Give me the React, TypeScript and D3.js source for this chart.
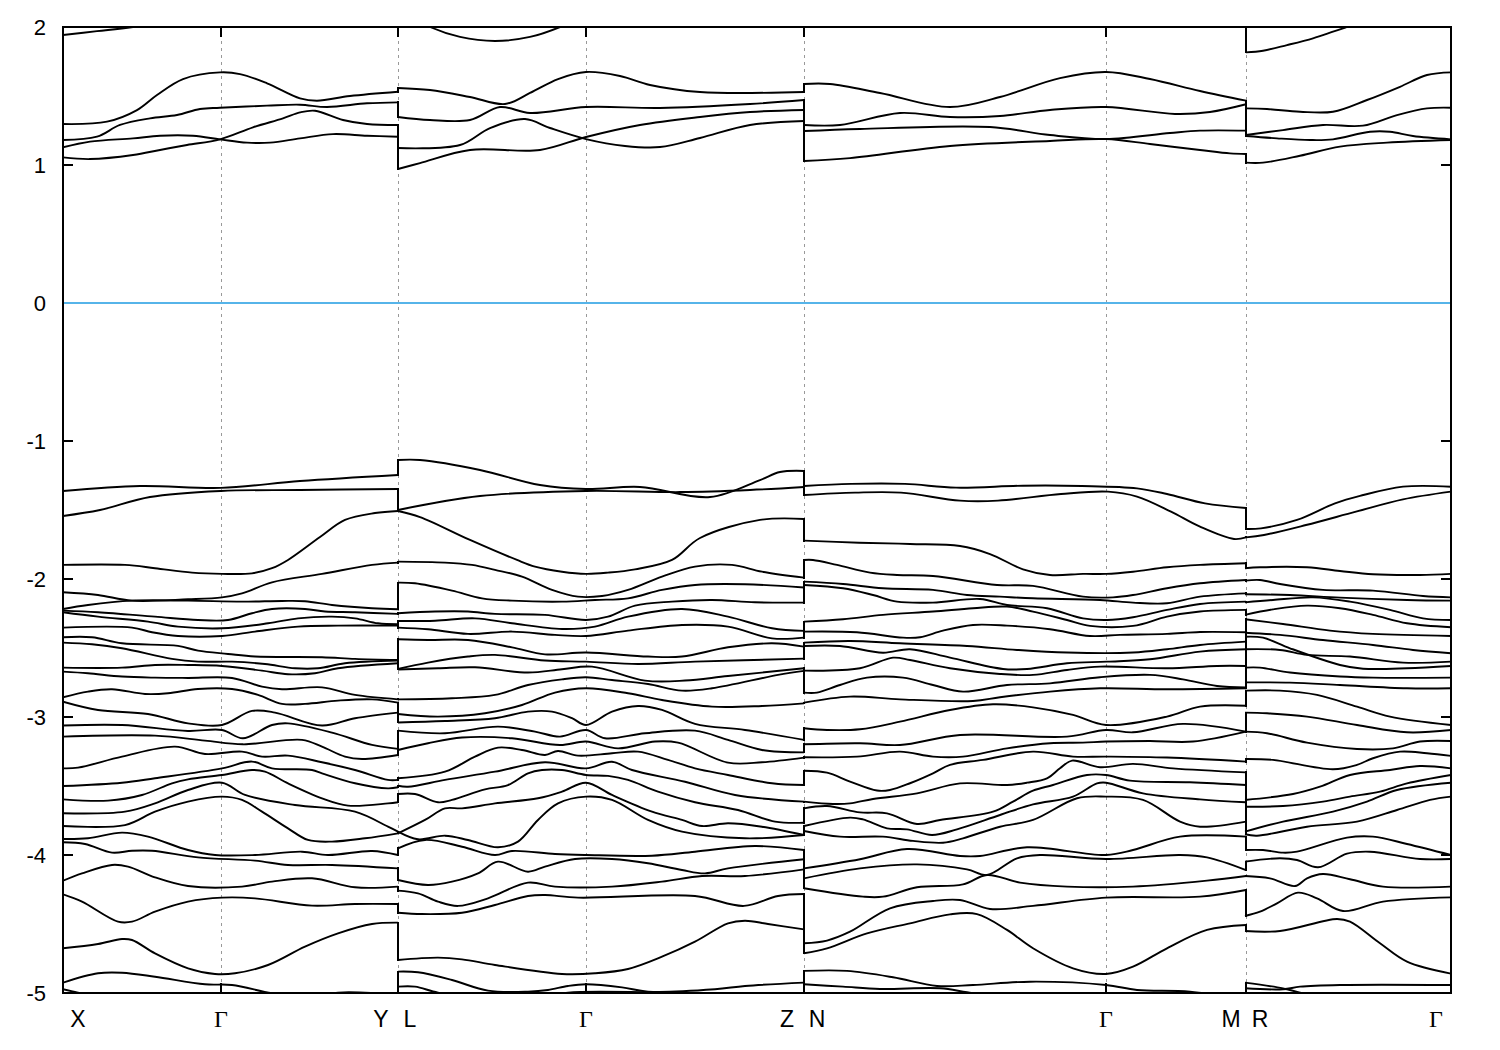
import React from 'react';
import * as d3 from 'd3';

type Pt = [number, number];
type Band = Pt[][];

// High-symmetry points along the k-path (path length, arbitrary units)
const nodeK = [158, 335, 523, 741, 1043, 1183];
const segmentEdges = [335, 741, 1183];
const energyTicks = [2, 1, 0, -1, -2, -3, -4, -5];
const pointLabels: [string, number, number][] = [
  ['X', 0, 15], ['Γ', 158, 0], ['Y', 335, -17], ['L', 335, 12], ['Γ', 523, 0], ['Z', 741, -17],
  ['N', 741, 13], ['Γ', 1043, 0], ['M', 1183, -15], ['R', 1183, 14], ['Γ', 1388, -15],
];

// Conduction bands: [k, E(eV)] per path segment
const c5: Band = [
  [[0,1.942],[34,1.97],[70,2.0],[160,2.1],[335,2.15]],
  [[335,2.13],[367,2.0],[397,1.928],[432,1.899],[467,1.928],[497,2.0],[520,2.08],[741,2.15]],
  [[741,2.15],[1183,2.15]],
  [[1183,1.816],[1200,1.828],[1224,1.869],[1250,1.918],[1270,1.966],[1280,1.99],[1304,2.05],[1388,2.05]],
];
const c4: Band = [
  [[0,1.297],[44,1.314],[74,1.398],[94,1.507],[120,1.623],[157,1.671],[177,1.659],[204,1.592],[237,1.483],[254,1.466],[287,1.5],[335,1.531]],
  [[335,1.558],[367,1.543],[407,1.493],[442,1.442],[467,1.522],[495,1.623],[523,1.674],[557,1.645],[587,1.58],[637,1.529],[741,1.529]],
  [[741,1.587],[767,1.587],[817,1.522],[887,1.42],[937,1.493],[997,1.63],[1043,1.674],[1087,1.623],[1137,1.536],[1183,1.466]],
  [[1183,1.41],[1204,1.406],[1237,1.386],[1270,1.386],[1304,1.471],[1337,1.567],[1364,1.652],[1388,1.671]],
];
const c3: Band = [
  [[0,1.181],[34,1.205],[57,1.29],[87,1.338],[114,1.362],[137,1.406],[157,1.415],[204,1.43],[237,1.437],[264,1.42],[304,1.447],[335,1.454]],
  [[335,1.348],[367,1.326],[407,1.326],[437,1.42],[467,1.377],[523,1.42],[597,1.413],[687,1.442],[741,1.471]],
  [[741,1.29],[777,1.29],[837,1.377],[887,1.348],[937,1.355],[987,1.399],[1043,1.42],[1112,1.37],[1147,1.384],[1183,1.44]],
  [[1183,1.217],[1220,1.253],[1260,1.29],[1300,1.285],[1334,1.362],[1364,1.41],[1388,1.415]],
];
const c2: Band = [
  [[0,1.128],[27,1.169],[70,1.193],[97,1.212],[130,1.212],[157,1.186],[184,1.162],[207,1.162],[237,1.193],[270,1.224],[304,1.212],[335,1.205]],
  [[335,1.123],[397,1.145],[427,1.268],[462,1.333],[487,1.268],[523,1.188],[562,1.138],[597,1.13],[637,1.196],[687,1.29],[741,1.319]],
  [[741,1.246],[797,1.261],[927,1.275],[987,1.217],[1043,1.188],[1107,1.232],[1137,1.249],[1183,1.249]],
  [[1183,1.21],[1214,1.193],[1247,1.181],[1270,1.186],[1307,1.241],[1327,1.241],[1350,1.21],[1388,1.186]],
];
const c1: Band = [
  [[0,1.055],[27,1.043],[70,1.072],[97,1.109],[124,1.145],[157,1.186],[190,1.273],[220,1.338],[237,1.381],[252,1.393],[280,1.326],[304,1.297],[335,1.29]],
  [[335,0.971],[357,1.014],[407,1.109],[477,1.109],[523,1.203],[577,1.29],[637,1.348],[687,1.384],[741,1.399]],
  [[741,1.029],[787,1.05],[887,1.138],[987,1.174],[1043,1.188],[1087,1.152],[1137,1.109],[1167,1.084],[1183,1.08]],
  [[1183,1.017],[1200,1.017],[1237,1.067],[1277,1.133],[1324,1.162],[1388,1.181]],
];

// Valence bands: [k, E(eV)] per path segment
const v1: Band = [
  [[0,-1.362],[77,-1.326],[158,-1.34],[237,-1.29],[335,-1.246]],
  [[335,-1.138],[357,-1.138],[417,-1.21],[477,-1.319],[523,-1.348],[577,-1.333],[647,-1.406],[697,-1.283],[717,-1.225],[741,-1.217]],
  [[741,-1.326],[788,-1.311],[842,-1.311],[893,-1.338],[960,-1.324],[1019,-1.326],[1074,-1.343],[1104,-1.384],[1142,-1.452],[1183,-1.485]],
  [[1183,-1.638],[1198,-1.633],[1234,-1.572],[1272,-1.452],[1297,-1.398],[1340,-1.331],[1388,-1.331]],
];
const v2: Band = [
  [[0,-1.543],[37,-1.5],[87,-1.406],[158,-1.362],[237,-1.355],[335,-1.348]],
  [[335,-1.5],[417,-1.399],[523,-1.362],[617,-1.37],[687,-1.355],[741,-1.333]],
  [[741,-1.391],[792,-1.374],[838,-1.374],[897,-1.432],[935,-1.432],[998,-1.384],[1045,-1.367],[1074,-1.403],[1108,-1.512],[1137,-1.621],[1171,-1.71],[1183,-1.698]],
  [[1183,-1.698],[1201,-1.681],[1243,-1.609],[1293,-1.512],[1340,-1.423],[1388,-1.367]],
];
const v3: Band = [
  [[0,-1.898],[62,-1.898],[92,-1.922],[129,-1.954],[159,-1.963],[189,-1.959],[209,-1.922],[225,-1.862],[257,-1.696],[282,-1.572],[312,-1.522],[335,-1.507]],
  [[335,-1.507],[357,-1.551],[407,-1.717],[454,-1.862],[472,-1.91],[499,-1.947],[523,-1.963],[545,-1.954],[572,-1.93],[609,-1.862],[637,-1.703],[697,-1.572],[741,-1.565]],
  [[741,-1.722],[796,-1.737],[847,-1.746],[897,-1.761],[927,-1.819],[960,-1.93],[987,-1.971],[1020,-1.963],[1043,-1.963],[1070,-1.947],[1104,-1.915],[1137,-1.898],[1183,-1.886]],
  [[1182,-1.922],[1197,-1.915],[1244,-1.915],[1277,-1.942],[1310,-1.966],[1357,-1.971],[1388,-1.963]],
];
const v4: Band = [
  [[0,-2.096],[35,-2.116],[69,-2.157],[125,-2.147],[159,-2.133],[179,-2.104],[209,-2.024],[259,-1.963],[309,-1.898],[335,-1.881]],
  [[335,-1.874],[382,-1.881],[409,-1.898],[432,-1.934],[459,-1.983],[489,-2.079],[515,-2.128],[539,-2.123],[565,-2.079],[599,-1.983],[632,-1.91],[669,-1.898],[699,-1.947],[741,-1.99]],
  [[741,-1.862],[750,-1.862],[774,-1.898],[807,-1.954],[834,-1.971],[870,-1.978],[934,-2.043],[970,-2.05],[1020,-2.128],[1050,-2.133],[1070,-2.116],[1104,-2.067],[1137,-2.031],[1183,-2.007]],
  [[1182,-2.012],[1197,-2.007],[1217,-2.036],[1260,-2.079],[1310,-2.084],[1360,-2.123],[1388,-2.133]],
];
const v5: Band = [
  [[0,-2.217],[25,-2.188],[69,-2.157],[125,-2.157],[179,-2.164],[219,-2.159],[242,-2.161],[269,-2.188],[309,-2.212],[335,-2.219]],
  [[335,-2.026],[352,-2.031],[389,-2.084],[419,-2.14],[449,-2.157],[499,-2.164],[532,-2.152],[565,-2.14],[599,-2.079],[632,-2.043],[682,-2.038],[741,-2.062]],
  [[741,-2.019],[780,-2.036],[820,-2.067],[870,-2.079],[904,-2.116],[937,-2.128],[970,-2.14],[1037,-2.152],[1070,-2.171],[1104,-2.176],[1137,-2.128],[1183,-2.104]],
  [[1182,-2.111],[1227,-2.116],[1277,-2.135],[1344,-2.152],[1388,-2.157]],
];
const v6: Band = [
  [[0,-2.229],[35,-2.241],[92,-2.273],[135,-2.297],[165,-2.297],[189,-2.248],[209,-2.217],[242,-2.217],[262,-2.236],[292,-2.241],[335,-2.253]],
  [[335,-2.248],[372,-2.236],[405,-2.236],[432,-2.253],[482,-2.26],[523,-2.297],[545,-2.273],[572,-2.193],[609,-2.164],[649,-2.152],[692,-2.169],[741,-2.171]],
  [[741,-2.043],[780,-2.067],[810,-2.116],[834,-2.164],[870,-2.171],[917,-2.145],[944,-2.188],[984,-2.212],[1020,-2.285],[1044,-2.297],[1070,-2.277],[1104,-2.224],[1137,-2.181],[1183,-2.164]],
  [[1182,-2.169],[1210,-2.152],[1250,-2.133],[1287,-2.164],[1327,-2.224],[1360,-2.285],[1388,-2.297]],
];
const v7: Band = [
  [[0,-2.241],[35,-2.273],[85,-2.309],[115,-2.345],[159,-2.357],[205,-2.321],[235,-2.285],[269,-2.273],[292,-2.285],[315,-2.321],[335,-2.328]],
  [[335,-2.304],[372,-2.302],[412,-2.285],[449,-2.321],[499,-2.362],[532,-2.345],[565,-2.273],[619,-2.217],[665,-2.273],[709,-2.357],[741,-2.376]],
  [[741,-2.309],[780,-2.292],[820,-2.26],[870,-2.236],[910,-2.212],[944,-2.2],[970,-2.236],[1004,-2.297],[1027,-2.34],[1070,-2.34],[1104,-2.273],[1137,-2.236],[1183,-2.224]],
  [[1182,-2.26],[1210,-2.22],[1244,-2.193],[1277,-2.212],[1310,-2.26],[1344,-2.321],[1388,-2.35]],
];
const v8: Band = [
  [[0,-2.352],[69,-2.352],[89,-2.386],[115,-2.413],[159,-2.413],[192,-2.381],[235,-2.345],[275,-2.338],[335,-2.338]],
  [[335,-2.352],[365,-2.364],[405,-2.398],[449,-2.381],[492,-2.405],[523,-2.413],[565,-2.374],[619,-2.333],[665,-2.345],[709,-2.43],[741,-2.425]],
  [[741,-2.381],[794,-2.386],[840,-2.425],[857,-2.422],[880,-2.374],[910,-2.333],[944,-2.338],[987,-2.364],[1027,-2.413],[1057,-2.405],[1104,-2.398],[1137,-2.384],[1183,-2.386]],
  [[1182,-2.292],[1220,-2.326],[1267,-2.374],[1310,-2.398],[1388,-2.413]],
];
const v9: Band = [
  [[0,-2.422],[29,-2.422],[59,-2.466],[115,-2.485],[135,-2.519],[165,-2.543],[192,-2.562],[259,-2.567],[292,-2.579],[335,-2.587]],
  [[335,-2.437],[365,-2.442],[405,-2.442],[449,-2.495],[482,-2.546],[523,-2.533],[585,-2.562],[619,-2.562],[665,-2.495],[709,-2.466],[741,-2.49]],
  [[741,-2.461],[787,-2.449],[837,-2.466],[904,-2.485],[954,-2.514],[1004,-2.533],[1070,-2.533],[1104,-2.509],[1137,-2.478],[1183,-2.454]],
  [[1182,-2.389],[1217,-2.405],[1260,-2.442],[1310,-2.478],[1350,-2.514],[1388,-2.538]],
];
const v10: Band = [
  [[0,-2.461],[29,-2.473],[59,-2.502],[109,-2.579],[135,-2.599],[169,-2.599],[202,-2.616],[232,-2.647],[255,-2.647],[282,-2.611],[335,-2.591]],
  [[335,-2.652],[365,-2.606],[405,-2.562],[432,-2.55],[482,-2.591],[523,-2.599],[575,-2.616],[632,-2.599],[741,-2.577]],
  [[741,-2.485],[777,-2.485],[820,-2.534],[847,-2.509],[887,-2.57],[940,-2.652],[964,-2.652],[1004,-2.611],[1044,-2.599],[1087,-2.582],[1137,-2.526],[1183,-2.509]],
  [[1182,-2.418],[1200,-2.425],[1227,-2.502],[1277,-2.623],[1300,-2.65],[1344,-2.647],[1388,-2.63]],
];
const v11: Band = [
  [[0,-2.642],[59,-2.642],[92,-2.623],[125,-2.623],[159,-2.63],[199,-2.664],[225,-2.69],[252,-2.683],[275,-2.647],[335,-2.611]],
  [[335,-2.656],[375,-2.647],[412,-2.64],[465,-2.678],[499,-2.654],[529,-2.635],[582,-2.736],[622,-2.736],[665,-2.703],[741,-2.647]],
  [[741,-2.664],[797,-2.647],[830,-2.57],[847,-2.587],[887,-2.647],[937,-2.688],[970,-2.695],[1004,-2.659],[1037,-2.635],[1104,-2.647],[1154,-2.63],[1183,-2.63]],
  [[1182,-2.509],[1217,-2.514],[1244,-2.55],[1287,-2.562],[1340,-2.606],[1388,-2.599]],
];
const v12: Band = [
  [[0,-2.671],[25,-2.683],[59,-2.707],[92,-2.715],[125,-2.717],[169,-2.717],[199,-2.78],[219,-2.799],[259,-2.785],[292,-2.84],[335,-2.872]],
  [[335,-2.872],[389,-2.864],[432,-2.84],[465,-2.768],[499,-2.727],[523,-2.712],[549,-2.732],[585,-2.761],[619,-2.809],[649,-2.792],[715,-2.695],[741,-2.666]],
  [[741,-2.823],[754,-2.823],[777,-2.768],[804,-2.715],[840,-2.715],[870,-2.768],[900,-2.816],[944,-2.768],[987,-2.756],[1037,-2.712],[1087,-2.695],[1120,-2.727],[1154,-2.775],[1183,-2.785]],
  [[1182,-2.642],[1197,-2.642],[1227,-2.678],[1277,-2.707],[1310,-2.715],[1388,-2.715]],
];
const v13: Band = [
  [[0,-2.857],[25,-2.816],[49,-2.799],[82,-2.833],[105,-2.828],[135,-2.797],[169,-2.797],[195,-2.84],[219,-2.905],[242,-2.905],[275,-2.881],[309,-2.872],[335,-2.896]],
  [[335,-2.978],[375,-2.997],[422,-2.973],[459,-2.913],[492,-2.823],[523,-2.792],[565,-2.828],[599,-2.877],[649,-2.925],[699,-2.92],[741,-2.901]],
  [[741,-2.896],[787,-2.852],[837,-2.872],[910,-2.884],[937,-2.857],[987,-2.816],[1037,-2.792],[1104,-2.799],[1183,-2.792]],
  [[1182,-2.749],[1227,-2.751],[1277,-2.768],[1344,-2.792],[1388,-2.792]],
];
const v14: Band = [
  [[0,-2.889],[35,-2.949],[85,-2.978],[125,-3.046],[159,-3.058],[189,-2.956],[212,-2.968],[259,-3.062],[292,-3.009],[335,-2.968]],
  [[335,-3.04],[382,-3.029],[432,-3.009],[465,-2.961],[489,-2.961],[509,-3.009],[523,-3.058],[549,-2.961],[575,-2.92],[599,-2.949],[632,-3.05],[682,-3.094],[741,-3.166]],
  [[741,-3.082],[764,-3.094],[797,-3.089],[837,-3.034],[887,-2.949],[930,-2.908],[970,-2.93],[1010,-2.985],[1043,-3.058],[1104,-2.997],[1137,-2.925],[1183,-2.918]],
  [[1182,-2.809],[1217,-2.809],[1254,-2.84],[1294,-2.925],[1327,-2.997],[1388,-3.058]],
];
const v15: Band = [
  [[0,-3.062],[59,-3.058],[125,-3.101],[159,-3.094],[180,-3.154],[209,-3.058],[225,-3.046],[269,-3.113],[309,-3.202],[335,-3.231]],
  [[335,-3.099],[382,-3.118],[435,-3.07],[472,-3.106],[497,-3.142],[523,-3.094],[542,-3.154],[582,-3.118],[632,-3.099],[665,-3.166],[699,-3.239],[741,-3.256]],
  [[741,-3.198],[797,-3.19],[837,-3.203],[897,-3.13],[1004,-3.142],[1043,-3.094],[1070,-3.111],[1120,-3.05],[1183,-3.106]],
  [[1182,-2.968],[1204,-2.973],[1244,-2.997],[1294,-3.058],[1344,-3.111],[1388,-3.094]],
];
const v16: Band = [
  [[0,-3.142],[92,-3.135],[142,-3.171],[180,-3.198],[239,-3.166],[259,-3.215],[282,-3.287],[299,-3.304],[335,-3.275]],
  [[335,-3.239],[365,-3.19],[399,-3.149],[449,-3.154],[497,-3.203],[523,-3.178],[555,-3.227],[592,-3.178],[615,-3.186],[665,-3.331],[699,-3.328],[741,-3.294]],
  [[741,-3.292],[794,-3.287],[837,-3.251],[870,-3.287],[900,-3.287],[944,-3.227],[987,-3.19],[1020,-3.186],[1043,-3.178],[1087,-3.174],[1130,-3.178],[1183,-3.106]],
  [[1182,-3.106],[1204,-3.118],[1244,-3.186],[1294,-3.232],[1330,-3.227],[1357,-3.178],[1388,-3.174]],
];
const v17: Band = [
  [[0,-3.372],[15,-3.367],[59,-3.287],[112,-3.215],[142,-3.268],[179,-3.251],[199,-3.287],[225,-3.28],[259,-3.328],[292,-3.384],[325,-3.456],[335,-3.456]],
  [[335,-3.444],[382,-3.396],[412,-3.287],[435,-3.222],[459,-3.239],[482,-3.275],[495,-3.246],[515,-3.28],[549,-3.263],[575,-3.251],[605,-3.311],[632,-3.372],[665,-3.42],[709,-3.48],[741,-3.493]],
  [[741,-3.389],[764,-3.403],[787,-3.468],[814,-3.533],[827,-3.529],[847,-3.48],[870,-3.408],[887,-3.347],[920,-3.311],[970,-3.251],[1010,-3.287],[1043,-3.287],[1104,-3.294],[1183,-3.323]],
  [[1182,-3.304],[1210,-3.311],[1270,-3.379],[1294,-3.347],[1310,-3.299],[1337,-3.251],[1364,-3.263],[1388,-3.282]],
];
const v18: Band = [
  [[0,-3.5],[59,-3.476],[92,-3.444],[159,-3.372],[189,-3.323],[209,-3.372],[249,-3.384],[259,-3.408],[292,-3.48],[325,-3.517],[335,-3.509]],
  [[335,-3.498],[345,-3.505],[382,-3.456],[432,-3.396],[482,-3.328],[523,-3.372],[549,-3.324],[569,-3.384],[622,-3.469],[672,-3.565],[741,-3.613]],
  [[741,-3.613],[770,-3.63],[787,-3.626],[810,-3.594],[854,-3.553],[897,-3.481],[944,-3.493],[964,-3.476],[984,-3.444],[997,-3.372],[1009,-3.316],[1037,-3.364],[1070,-3.34],[1110,-3.372],[1183,-3.401]],
  [[1182,-3.601],[1230,-3.558],[1257,-3.505],[1287,-3.42],[1327,-3.384],[1357,-3.355],[1388,-3.372]],
];
const v19: Band = [
  [[0,-3.597],[45,-3.606],[79,-3.565],[109,-3.481],[125,-3.452],[159,-3.42],[189,-3.384],[202,-3.396],[225,-3.481],[259,-3.589],[285,-3.642],[325,-3.626],[335,-3.618]],
  [[335,-3.558],[352,-3.558],[375,-3.618],[389,-3.601],[422,-3.524],[445,-3.493],[465,-3.408],[479,-3.384],[499,-3.384],[523,-3.42],[545,-3.427],[565,-3.456],[595,-3.541],[632,-3.618],[675,-3.674],[712,-3.758],[741,-3.766]],
  [[741,-3.662],[764,-3.645],[797,-3.691],[824,-3.698],[854,-3.775],[877,-3.746],[930,-3.686],[950,-3.613],[970,-3.534],[990,-3.493],[1024,-3.42],[1043,-3.42],[1067,-3.461],[1127,-3.473],[1183,-3.493]],
  [[1182,-3.65],[1220,-3.645],[1260,-3.613],[1287,-3.577],[1317,-3.541],[1344,-3.481],[1388,-3.42]],
];
const v20: Band = [
  [[0,-3.698],[62,-3.686],[92,-3.626],[125,-3.529],[159,-3.476],[182,-3.565],[232,-3.638],[292,-3.686],[325,-3.795],[335,-3.831]],
  [[335,-3.843],[362,-3.746],[382,-3.662],[399,-3.662],[432,-3.626],[475,-3.589],[499,-3.541],[523,-3.476],[549,-3.565],[589,-3.686],[619,-3.746],[639,-3.79],[665,-3.77],[699,-3.795],[741,-3.855]],
  [[741,-3.79],[787,-3.729],[800,-3.742],[824,-3.807],[844,-3.814],[869,-3.855],[894,-3.814],[937,-3.71],[970,-3.633],[1010,-3.577],[1034,-3.481],[1043,-3.476],[1080,-3.553],[1137,-3.597],[1183,-3.618]],
  [[1182,-3.831],[1220,-3.758],[1270,-3.686],[1304,-3.613],[1334,-3.529],[1388,-3.476]],
];
const v21: Band = [
  [[0,-3.79],[62,-3.783],[92,-3.686],[125,-3.613],[159,-3.577],[179,-3.601],[199,-3.686],[225,-3.807],[245,-3.891],[269,-3.903],[302,-3.879],[335,-3.843]],
  [[335,-3.831],[355,-3.886],[382,-3.86],[405,-3.891],[435,-3.944],[455,-3.903],[475,-3.746],[495,-3.626],[523,-3.577],[549,-3.601],[585,-3.746],[619,-3.831],[682,-3.879],[741,-3.855]],
  [[741,-3.826],[777,-3.867],[820,-3.867],[850,-3.898],[880,-3.911],[900,-3.879],[937,-3.795],[970,-3.746],[1014,-3.589],[1043,-3.577],[1080,-3.601],[1117,-3.758],[1137,-3.795],[1183,-3.758]],
  [[1182,-3.85],[1194,-3.86],[1244,-3.795],[1294,-3.758],[1334,-3.674],[1367,-3.601],[1388,-3.577]],
];
const v22: Band = [
  [[0,-3.884],[25,-3.879],[59,-3.838],[85,-3.867],[125,-3.964],[152,-4.0],[192,-4.0],[239,-3.976],[265,-4.0],[309,-3.971],[335,-4.0]],
  [[335,-3.952],[362,-3.891],[399,-3.94],[432,-4.0],[449,-3.971],[492,-3.993],[523,-4.0],[589,-4.005],[632,-3.976],[692,-3.935],[741,-3.964]],
  [[741,-4.097],[797,-4.031],[844,-3.957],[897,-4.007],[917,-4.007],[964,-3.944],[1043,-4.0],[1070,-3.964],[1117,-3.867],[1183,-3.867]],
  [[1182,-3.964],[1200,-3.964],[1220,-3.983],[1234,-3.976],[1284,-3.874],[1310,-3.867],[1344,-3.92],[1388,-4.0]],
];
const v23: Band = [
  [[0,-3.908],[22,-3.92],[49,-3.983],[69,-3.969],[89,-3.969],[135,-4.017],[192,-4.041],[225,-4.072],[269,-4.072],[335,-4.097]],
  [[335,-4.181],[365,-4.217],[389,-4.193],[415,-4.133],[435,-4.048],[465,-4.121],[482,-4.084],[512,-4.029],[549,-4.029],[585,-4.06],[619,-4.109],[642,-4.133],[665,-4.097],[741,-4.031]],
  [[741,-4.169],[797,-4.097],[854,-4.068],[904,-4.104],[924,-4.145],[954,-4.024],[977,-4.0],[1043,-4.029],[1117,-4.0],[1144,-4.017],[1183,-4.109]],
  [[1182,-4.048],[1217,-4.024],[1234,-4.036],[1255,-4.089],[1284,-3.99],[1307,-3.976],[1357,-4.029],[1388,-4.029]],
];
const v24: Band = [
  [[0,-4.186],[19,-4.133],[49,-4.072],[65,-4.084],[92,-4.162],[125,-4.225],[179,-4.229],[209,-4.193],[249,-4.169],[292,-4.234],[335,-4.229]],
  [[335,-4.258],[355,-4.278],[375,-4.338],[395,-4.369],[425,-4.314],[465,-4.2],[492,-4.229],[549,-4.229],[599,-4.193],[639,-4.152],[682,-4.152],[741,-4.104]],
  [[741,-4.241],[800,-4.302],[820,-4.302],[854,-4.234],[900,-4.213],[924,-4.145],[957,-4.2],[1004,-4.229],[1070,-4.229],[1144,-4.186],[1183,-4.152]],
  [[1182,-4.152],[1207,-4.169],[1232,-4.225],[1244,-4.169],[1260,-4.138],[1287,-4.176],[1320,-4.229],[1388,-4.229]],
];
const v25: Band = [
  [[0,-4.285],[19,-4.338],[55,-4.483],[69,-4.483],[92,-4.411],[125,-4.338],[159,-4.309],[192,-4.314],[249,-4.367],[292,-4.355],[335,-4.355]],
  [[335,-4.418],[359,-4.428],[399,-4.418],[432,-4.362],[465,-4.297],[482,-4.29],[515,-4.309],[632,-4.297],[681,-4.369],[715,-4.297],[741,-4.283]],
  [[741,-4.64],[764,-4.62],[787,-4.556],[827,-4.386],[870,-4.333],[897,-4.326],[927,-4.391],[970,-4.369],[1043,-4.309],[1137,-4.302],[1183,-4.254]],
  [[1182,-4.442],[1197,-4.411],[1214,-4.35],[1235,-4.273],[1254,-4.314],[1280,-4.406],[1320,-4.338],[1388,-4.307]],
];
const v26: Band = [
  [[0,-4.676],[35,-4.645],[59,-4.609],[69,-4.616],[92,-4.713],[125,-4.821],[152,-4.862],[172,-4.857],[205,-4.797],[242,-4.664],[275,-4.568],[309,-4.5],[335,-4.49]],
  [[335,-4.761],[375,-4.744],[399,-4.756],[432,-4.797],[499,-4.862],[532,-4.857],[565,-4.826],[599,-4.737],[632,-4.628],[665,-4.495],[682,-4.476],[705,-4.5],[741,-4.539]],
  [[741,-4.712],[764,-4.676],[804,-4.568],[847,-4.495],[887,-4.43],[914,-4.428],[944,-4.543],[970,-4.676],[1010,-4.821],[1043,-4.862],[1070,-4.809],[1104,-4.676],[1144,-4.543],[1183,-4.507]],
  [[1182,-4.551],[1217,-4.551],[1274,-4.464],[1287,-4.483],[1317,-4.64],[1344,-4.773],[1388,-4.86]],
];
const v27: Band = [
  [[0,-4.925],[35,-4.857],[59,-4.853],[92,-4.882],[142,-4.937],[169,-4.942],[209,-5.002],[242,-5.03],[275,-4.997],[302,-4.997],[335,-5.007]],
  [[335,-4.845],[355,-4.85],[389,-4.906],[425,-4.983],[465,-4.99],[485,-4.978],[505,-4.949],[523,-4.937],[559,-4.959],[585,-4.99],[652,-4.973],[682,-4.949],[741,-4.925]],
  [[741,-4.84],[784,-4.84],[830,-4.886],[874,-4.949],[910,-4.942],[967,-4.918],[1043,-4.942],[1074,-4.978],[1127,-4.99],[1183,-5.05]],
  [[1182,-4.925],[1220,-4.966],[1237,-4.997],[1277,-5.05],[1388,-5.05]],
];
const v28: Band = [
  [[0,-4.973],[15,-4.997],[42,-5.03],[335,-5.05]],
  [[335,-4.954],[352,-4.954],[375,-4.997],[415,-5.03],[482,-5.03],[505,-4.997],[741,-5.03]],
  [[741,-4.937],[780,-4.954],[817,-4.971],[877,-4.966],[904,-4.995],[937,-5.03],[1183,-5.06]],
  [[1182,-4.966],[1220,-4.973],[1237,-4.954],[1277,-4.942],[1388,-4.942]],
];

const bands: Band[] = [c5, c4, c3, c2, c1, v1, v2, v3, v4, v5, v6, v7, v8, v9, v10, v11, v12, v13, v14, v15, v16, v17, v18, v19, v20, v21, v22, v23, v24, v25, v26, v27, v28];

const W = 1500, H = 1050;
const left = 63, right = 1451, top = 27, bottom = 993;
const x = d3.scaleLinear().domain([0, 1388]).range([left, right]);
const y = d3.scaleLinear().domain([-5, 2]).range([bottom, top]);
const line = d3.line<Pt>().x(d => x(d[0])).y(d => y(d[1])).curve(d3.curveCatmullRom.alpha(0.5));
const sans = '"Liberation Sans", Arial, sans-serif';

// Vertical jumps: bands meet in energy order at each path break
const jumps = segmentEdges.map((k, i) => {
  const ends = bands.map(b => b[i][b[i].length - 1][1]).sort(d3.descending);
  const starts = bands.map(b => b[i + 1][0][1]).sort(d3.descending);
  return ends.map((e, j) => ({ k, from: e, to: starts[j] }));
}).flat();

export default function App() {
  return (
    <svg width={W} height={H} viewBox={`0 0 ${W} ${H}`} style={{ position: 'absolute', left: 0, top: 0, background: '#fff' }}>
      <defs>
        <clipPath id="plot"><rect x={left} y={top} width={right - left} height={bottom - top} /></clipPath>
      </defs>
      {nodeK.map((k, i) => (
        <line key={i} x1={x(k)} x2={x(k)} y1={top} y2={bottom} stroke="#999" strokeWidth={1} strokeDasharray="3 4" shapeRendering="crispEdges" />
      ))}
      <g clipPath="url(#plot)" fill="none" stroke="#000" strokeWidth={1.9}>
        {bands.map((b, i) => b.map((seg, j) => <path key={`${i}-${j}`} d={line(seg) ?? ''} />))}
        {jumps.map((j, i) => <line key={i} x1={x(j.k)} x2={x(j.k)} y1={y(j.from)} y2={y(j.to)} strokeLinecap="square" shapeRendering="crispEdges" />)}
      </g>
      <g stroke="#000" strokeWidth={2} shapeRendering="crispEdges">
        {energyTicks.slice(1, -1).map(t => (
          <g key={t}>
            <line x1={left} x2={left + 10} y1={y(t)} y2={y(t)} />
            <line x1={right - 10} x2={right} y1={y(t)} y2={y(t)} />
          </g>
        ))}
        {nodeK.map((k, i) => (
          <g key={i}>
            <line x1={x(k)} x2={x(k)} y1={top} y2={top + 10} />
            <line x1={x(k)} x2={x(k)} y1={bottom - 10} y2={bottom} />
          </g>
        ))}
        <rect x={left} y={top} width={right - left} height={bottom - top} fill="none" />
      </g>
      <line x1={left + 1} x2={right - 1} y1={y(0)} y2={y(0)} stroke="#56b4e9" strokeWidth={2} shapeRendering="crispEdges" />
      {energyTicks.map(t => (
        <text key={t} x={46} y={y(t)} dy="0.36em" textAnchor="end" fontFamily={sans} fontSize={22} fill="#000">{t}</text>
      ))}
      {pointLabels.map(([s, k, dx], i) => (
        <text key={i} x={x(k) + dx} y={1027} textAnchor="middle" fontFamily={s === 'Γ' ? '"Liberation Serif", serif' : sans} fontSize={s === 'Γ' ? 24 : 23} fill="#000">{s}</text>
      ))}
    </svg>
  );
}
